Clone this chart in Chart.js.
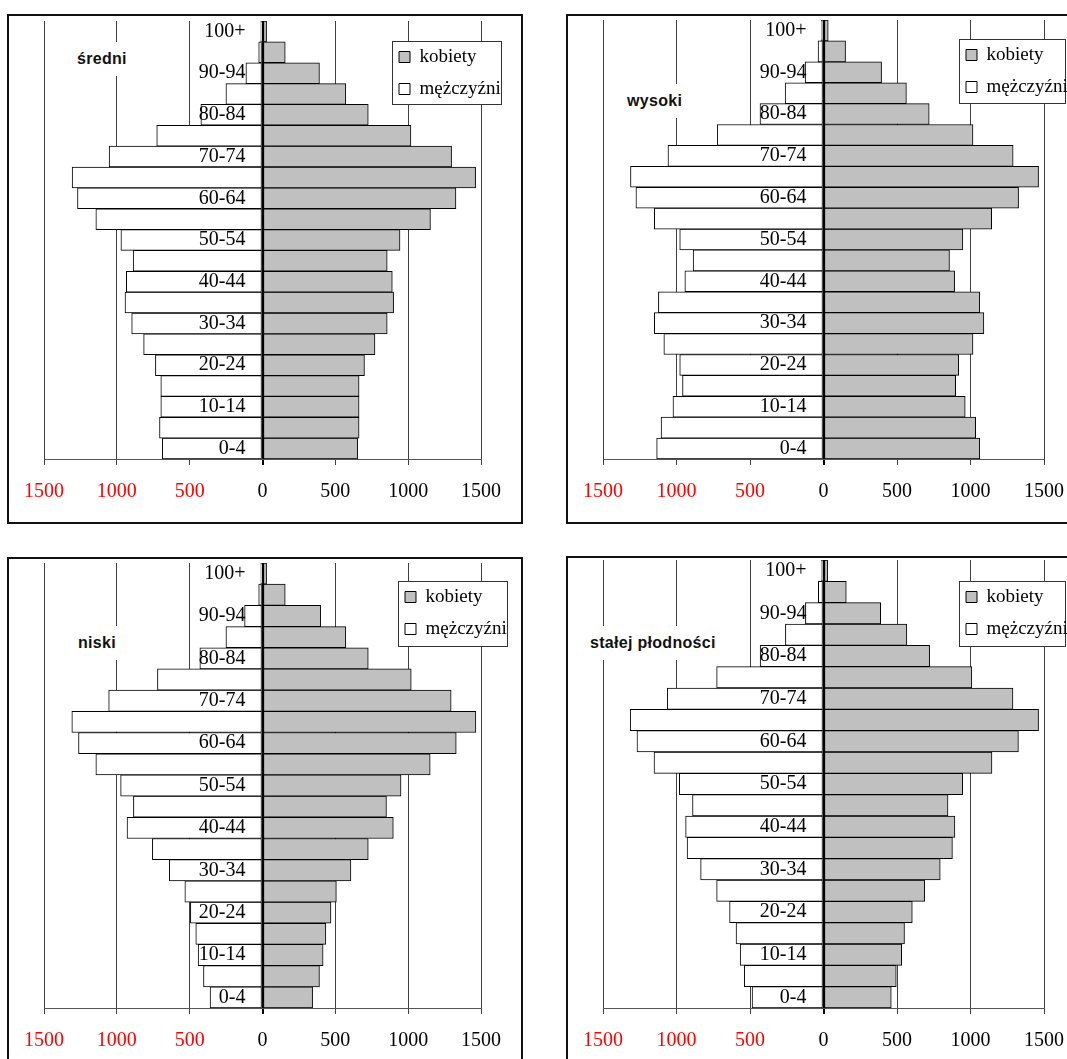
<!DOCTYPE html>
<html><head><meta charset="utf-8">
<script src="https://cdn.jsdelivr.net/npm/chart.js@4.4.1/dist/chart.umd.min.js"></script>
<style>
html,body{margin:0;padding:0;background:#fff;overflow:hidden;width:1067px;height:1059px;position:relative;}
.frame{position:absolute;border:2px solid #111;box-sizing:border-box;pointer-events:none;}
.title{position:absolute;background:#fff;font:bold 16px "Liberation Sans",Arial,sans-serif;letter-spacing:0.3px;height:34px;line-height:34px;padding:0 8px;color:#111;white-space:nowrap;}
</style></head><body>
<script>
// ---- data ----
const ageGroups = ['0-4','5-9','10-14','15-19','20-24','25-29','30-34','35-39','40-44','45-49','50-54','55-59','60-64','65-69','70-74','75-79','80-84','85-89','90-94','95-99','100+'];
const seriesNames = ['kobiety', 'mężczyźni'];
const xTickValues = [-1500, -1000, -500, 0, 500, 1000, 1500];

const sredniWomen = [653, 663, 663, 663, 700, 772, 856, 900, 891, 856, 944, 1153, 1328, 1463, 1298, 1019, 726, 572, 391, 156, 28];
const sredniMen   = [688, 707, 698, 698, 735, 816, 898, 944, 935, 888, 972, 1144, 1270, 1307, 1053, 726, 423, 251, 114, 26, 12];

const wysokiWomen = [1063, 1035, 964, 899, 920, 1017, 1091, 1063, 892, 857, 948, 1144, 1327, 1463, 1290, 1017, 719, 564, 395, 150, 32];
const wysokiMen   = [1135, 1105, 1024, 959, 978, 1086, 1151, 1123, 943, 887, 978, 1151, 1276, 1313, 1058, 723, 432, 261, 125, 37, 14];

const niskiWomen = [344, 391, 416, 435, 470, 507, 607, 726, 898, 851, 951, 1151, 1330, 1465, 1295, 1021, 726, 572, 400, 156, 28];
const niskiMen   = [360, 405, 442, 458, 495, 533, 640, 756, 930, 886, 974, 1144, 1263, 1309, 1056, 721, 430, 251, 123, 26, 12];

const stalejWomen = [461, 495, 532, 551, 604, 688, 794, 877, 894, 847, 947, 1146, 1326, 1463, 1289, 1009, 722, 567, 389, 155, 28];
const stalejMen   = [486, 539, 567, 595, 639, 727, 836, 928, 938, 891, 981, 1153, 1269, 1315, 1063, 727, 431, 259, 123, 35, 14];

const panelTitles = ['średni', 'wysoki', 'niski', 'stałej płodności'];

// ---- layout (page pixel geometry) ----
const panels = [
  {title: panelTitles[0], women: sredniWomen, men: sredniMen,
   frame:{l:7,t:14,r:523,b:524}, area:{l:44,t:21,r:481,b:459}, legend:{l:392,t:41,r:501,b:104}, tpos:{x:69,y:42}},
  {title: panelTitles[1], women: wysokiWomen, men: wysokiMen,
   frame:{l:566,t:14,r:1085,b:524}, area:{l:603,t:20,r:1044,b:459}, legend:{l:959,t:39,r:1065,b:103}, tpos:{x:619,y:84}},
  {title: panelTitles[2], women: niskiWomen, men: niskiMen,
   frame:{l:7,t:557,r:523,b:1080}, area:{l:44,t:563,r:481,b:1008}, legend:{l:398,t:581,r:507,b:646}, tpos:{x:70,y:626}},
  {title: panelTitles[3], women: stalejWomen, men: stalejMen,
   frame:{l:566,t:556,r:1085,b:1080}, area:{l:603,t:560,r:1044,b:1008}, legend:{l:959,t:581,r:1065,b:646}, tpos:{x:582,y:626}}
];

const X_AXIS_H = 40;
const LABEL_GAP_PX = 17;
const SERIF = '"Liberation Serif", "Times New Roman", serif';

function makePanel(p, idx) {
  const W = p.frame.r - p.frame.l, H = p.frame.b - p.frame.t;
  const canvas = document.createElement('canvas');
  canvas.width = W; canvas.height = H;
  canvas.style.cssText = `position:absolute;left:${p.frame.l}px;top:${p.frame.t}px;width:${W}px;height:${H}px;`;
  document.body.appendChild(canvas);

  const title = document.createElement('div');
  title.className = 'title';
  title.textContent = p.title;
  title.style.left = p.tpos.x + 'px';
  title.style.top = p.tpos.y + 'px';
  document.body.appendChild(title);

  const frame = document.createElement('div');
  frame.className = 'frame';
  frame.style.cssText += `left:${p.frame.l}px;top:${p.frame.t}px;width:${W}px;height:${H}px;`;
  document.body.appendChild(frame);

  // y-axis labels are anchored a fixed pixel gap left of the zero line
  const unitsPerPx = (xTickValues[xTickValues.length - 1] - xTickValues[0]) / (p.area.r - p.area.l);
  const labelAnchor = -LABEL_GAP_PX * unitsPerPx;

  const lgPad = 13;
  const legendPlacer = {
    id: 'legendPlacer' + idx,
    afterLayout(chart) {
      const lg = chart.legend;
      if (!lg) return;
      const left = (p.legend.l - p.frame.l) + 7 - lgPad;
      const top = (p.legend.t - p.frame.t) + 11 - 4.5 - lgPad;
      lg.left = left; lg.top = top; lg.right = left + 300; lg.bottom = top + 300;
      lg.width = 300; lg.height = 300;
    },
    afterDatasetsDraw(chart) {
      const ctx = chart.ctx;
      const x = p.legend.l - p.frame.l, y = p.legend.t - p.frame.t;
      const w = p.legend.r - p.legend.l, h = p.legend.b - p.legend.t;
      ctx.save();
      ctx.fillStyle = '#fff';
      ctx.fillRect(x, y, w, h);
      ctx.strokeStyle = '#333';
      ctx.lineWidth = 1;
      ctx.strokeRect(x + 0.5, y + 0.5, w, h);
      ctx.restore();
      chart.legend.draw(chart.chartArea);
    }
  };

  new Chart(canvas.getContext('2d'), {
    type: 'bar',
    data: {
      labels: ageGroups,
      datasets: [
        {label: seriesNames[0], data: p.women, backgroundColor: '#c0c0c0', borderColor: '#000', borderWidth: 1, borderSkipped: false},
        {label: seriesNames[1], data: p.men.map(v => -v), backgroundColor: '#ffffff', borderColor: '#000', borderWidth: 1, borderSkipped: false}
      ]
    },
    options: {
      indexAxis: 'y',
      responsive: false,
      animation: false,
      devicePixelRatio: 1,
      events: [],
      layout: {padding: {
        left: p.area.l - p.frame.l,
        right: p.frame.r - p.area.r,
        top: p.area.t - p.frame.t,
        bottom: (p.frame.b - p.area.b) - X_AXIS_H
      }},
      datasets: {bar: {categoryPercentage: 1, barPercentage: 1, grouped: false}},
      scales: {
        x: {
          type: 'linear', min: xTickValues[0], max: xTickValues[xTickValues.length - 1],
          afterBuildTicks: s => { s.ticks = xTickValues.map(v => ({value: v})); },
          afterFit: s => { s.height = X_AXIS_H; },
          grid: {
            color: c => (c.tick && c.tick.value === 0) ? '#000' : '#404040',
            lineWidth: c => (c.tick && c.tick.value === 0) ? 2 : 1,
            tickLength: 6, drawTicks: true
          },
          border: {display: true, color: '#555', width: 1},
          ticks: {
            padding: 15,
            font: {family: SERIF, size: 20},
            color: c => (c.tick && c.tick.value < 0) ? '#ff0000' : '#000000',
            callback: v => String(Math.abs(v))
          }
        },
        y: {
          type: 'category', reverse: true, position: {x: labelAnchor},
          afterFit: s => { s.paddingTop = 0; s.paddingBottom = 0; },
          grid: {display: false, drawTicks: false},
          border: {display: false},
          ticks: {
            z: 1, autoSkip: false, padding: 0,
            font: {family: SERIF, size: 20}, color: '#000',
            callback: function(value, index) { return index % 2 === 0 ? ageGroups[index] : ''; }
          }
        }
      },
      plugins: {
        legend: {
          position: 'chartArea', align: 'start',
          labels: {boxWidth: 11, boxHeight: 11, padding: lgPad, color: '#000', font: {family: SERIF, size: 19}}
        },
        tooltip: {enabled: false},
        title: {display: false}
      }
    },
    plugins: [legendPlacer]
  });
}

panels.forEach(makePanel);
</script>
</body></html>
